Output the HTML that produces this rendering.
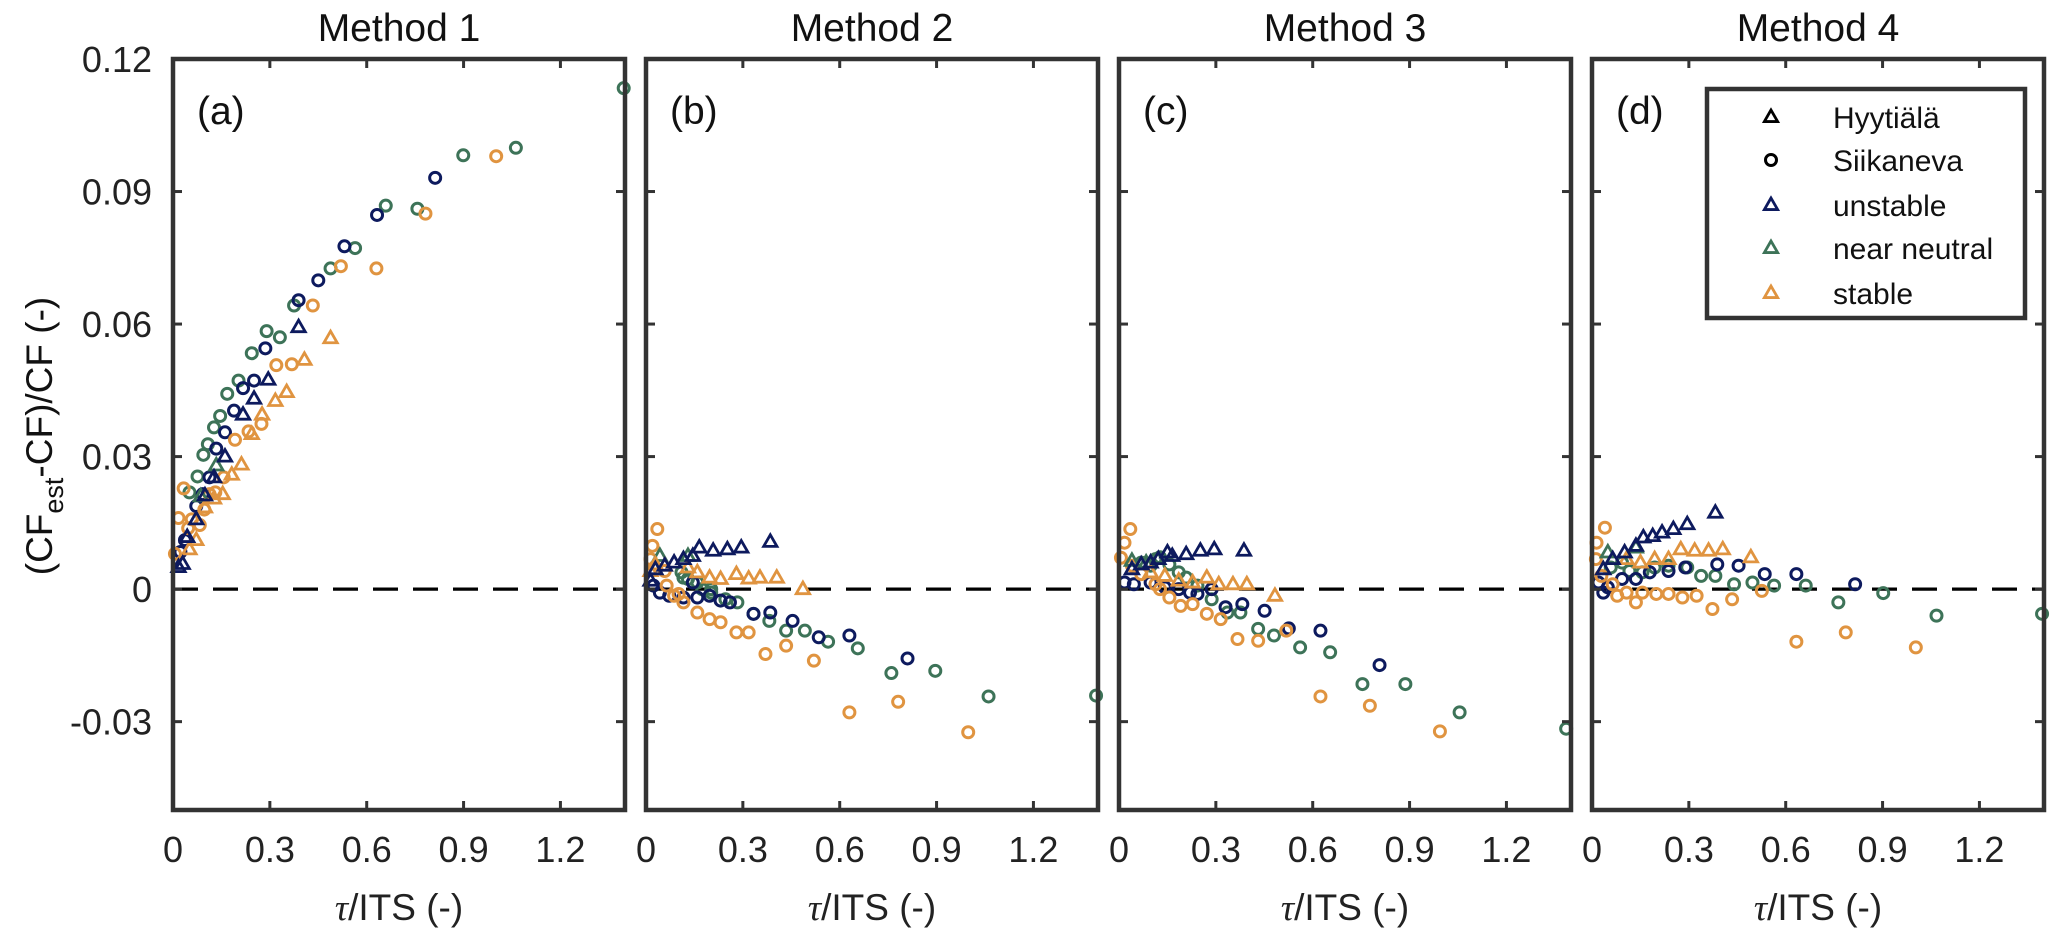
<!DOCTYPE html>
<html><head><meta charset="utf-8"><style>
html,body{margin:0;padding:0;background:#fff;}
svg{display:block;font-family:"Liberation Sans",Arial,sans-serif;}
</style></head><body>
<svg id="fig" width="2067" height="937" viewBox="0 0 2067 937"></svg>
<script>
// ---- data ----
const panelTitles = ["Method 1","Method 2","Method 3","Method 4"];
const panelLabels = ["(a)","(b)","(c)","(d)"];
const xTicks = [0,0.3,0.6,0.9,1.2];
const xTickLabels = ["0","0.3","0.6","0.9","1.2"];
const yTicks = [-0.03,0,0.03,0.06,0.09,0.12];
const yTickLabels = ["-0.03","0","0.03","0.06","0.09","0.12"];
const legendLabels = ["Hyytiälä","Siikaneva","unstable","near neutral","stable"];

// Panel a
const aUnstableTri = [[0.389,0.0593],[0.295,0.0474],[0.251,0.0431],[0.217,0.0395],[0.161,0.030],[0.127,0.0253],[0.099,0.0212],[0.072,0.0158],[0.044,0.0118],[0.017,0.005],[0.03,0.0057]];
const aNeutralTri = [[0.134,0.028],[0.086,0.021]];
const aStableTri = [[0.488,0.0568],[0.407,0.0519],[0.352,0.0446],[0.317,0.0426],[0.276,0.0395],[0.244,0.0351],[0.212,0.0282],[0.182,0.0259],[0.154,0.0215],[0.127,0.0205],[0.099,0.0185],[0.072,0.0111],[0.051,0.009]];
const aUnstableCirc = [[0.812,0.0931],[0.632,0.0847],[0.531,0.0776],[0.450,0.0699],[0.389,0.0654],[0.286,0.0545],[0.251,0.0472],[0.217,0.0455],[0.189,0.0404],[0.161,0.0355],[0.134,0.0318],[0.113,0.0253],[0.092,0.0215],[0.072,0.0188],[0.037,0.0111],[0.023,0.0084]];
const aNeutralCirc = [[1.396,0.1134],[1.062,0.0999],[0.899,0.0982],[0.659,0.0868],[0.757,0.0861],[0.564,0.0772],[0.488,0.0726],[0.375,0.0642],[0.290,0.0584],[0.331,0.0570],[0.244,0.0534],[0.203,0.0472],[0.168,0.0442],[0.146,0.0392],[0.127,0.0366],[0.108,0.0328],[0.094,0.0304],[0.076,0.0255],[0.051,0.0219]];
const aStableCirc = [[1.001,0.098],[0.782,0.085],[0.630,0.0726],[0.520,0.0731],[0.433,0.0642],[0.320,0.0507],[0.368,0.0509],[0.274,0.0374],[0.234,0.0357],[0.192,0.0338],[0.157,0.0253],[0.131,0.0219],[0.113,0.0215],[0.097,0.018],[0.083,0.0145],[0.058,0.0158],[0.017,0.0161],[0.033,0.0228],[0.047,0.0138],[0.006,0.008]];

// Panel b
const bUnstableTri = [[0.385,0.0107],[0.295,0.0094],[0.252,0.0090],[0.208,0.0087],[0.165,0.0094],[0.145,0.0075],[0.116,0.0068],[0.087,0.0060],[0.058,0.0053],[0.029,0.0045],[0.014,0.0019]];
const bNeutralTri = [[0.043,0.0075],[0.13,0.0075]];
const bStableTri = [[0.486,0],[0.405,0.0026],[0.353,0.0026],[0.318,0.0024],[0.28,0.0034],[0.231,0.0023],[0.197,0.0026],[0.159,0.0038],[0.130,0.0049],[0.058,0.0053],[0.029,0.0056],[0.014,0.0041]];
const bUnstableCirc = [[0.023,0.0008],[0.043,-0.0008],[0.072,-0.0015],[0.116,-0.0019],[0.159,-0.0019],[0.197,-0.0015],[0.231,-0.0026],[0.26,-0.003],[0.333,-0.0056],[0.385,-0.0053],[0.454,-0.0072],[0.535,-0.0109],[0.63,-0.0105],[0.81,-0.0157],[0.145,0.0015]];
const bNeutralCirc = [[0.11,0.0038],[0.13,0.0023],[0.159,0.0015],[0.174,0],[0.202,0],[0.246,-0.0023],[0.283,-0.003],[0.333,-0.0056],[0.382,-0.0072],[0.434,-0.0094],[0.492,-0.0094],[0.564,-0.0119],[0.656,-0.0134],[0.76,-0.019],[0.896,-0.0185],[1.061,-0.0243],[1.394,-0.0241],[0.116,0.0026],[0.202,-0.0008]];
const bStableCirc = [[0.035,0.0136],[0.02,0.0098],[0.014,0.0068],[0.064,0.0008],[0.087,-0.0015],[0.116,-0.003],[0.159,-0.0053],[0.197,-0.0068],[0.231,-0.0075],[0.28,-0.0098],[0.318,-0.0098],[0.37,-0.0147],[0.434,-0.0128],[0.52,-0.0162],[0.63,-0.0279],[0.781,-0.0255],[0.998,-0.0324],[0.058,0.0041],[0.101,-0.0011]];

// Panel c
const cUnstableTri = [[0.387,0.0087],[0.295,0.009],[0.252,0.0087],[0.208,0.0079],[0.165,0.0075],[0.150,0.0083],[0.122,0.0068],[0.098,0.006],[0.069,0.0056],[0.040,0.0045]];
const cNeutralTri = [[0.040,0.0064],[0.084,0.006]];
const cStableTri = [[0.483,-0.0015],[0.396,0.0011],[0.353,0.0011],[0.309,0.0011],[0.272,0.0026],[0.228,0.0015],[0.185,0.0019],[0.142,0.003],[0.098,0.0038]];
const cUnstableCirc = [[0.017,0.0015],[0.046,0.0011],[0.098,0.0015],[0.142,0.0004],[0.185,0],[0.220,-0.0008],[0.243,-0.0011],[0.287,0],[0.330,-0.0041],[0.382,-0.0034],[0.451,-0.0049],[0.526,-0.0089],[0.624,-0.0094],[0.807,-0.0172]];
const cNeutralCirc = [[0.069,0.006],[0.113,0.0068],[0.127,0.0072],[0.156,0.0056],[0.185,0.0038],[0.208,0.0026],[0.243,0.0008],[0.287,-0.0023],[0.336,-0.0053],[0.376,-0.0053],[0.431,-0.009],[0.480,-0.0105],[0.561,-0.0132],[0.654,-0.0143],[0.754,-0.0215],[0.887,-0.0215],[1.055,-0.0279],[1.385,-0.0316],[0.098,0.0053]];
const cStableCirc = [[0.035,0.0136],[0.017,0.0105],[0.006,0.0071],[0.040,0.0053],[0.069,0.0034],[0.113,0.0011],[0.156,-0.0019],[0.191,-0.0038],[0.228,-0.0034],[0.272,-0.0056],[0.315,-0.0068],[0.367,-0.0113],[0.431,-0.0117],[0.518,-0.0094],[0.624,-0.0243],[0.777,-0.0264],[0.994,-0.0322],[0.127,0]];

// Panel d
const dUnstableTri = [[0.382,0.0173],[0.295,0.0147],[0.252,0.0136],[0.217,0.0128],[0.188,0.012],[0.159,0.0117],[0.136,0.0098],[0.101,0.0083],[0.064,0.0068],[0.035,0.0045]];
const dNeutralTri = [[0.136,0.0094],[0.049,0.0083]];
const dStableTri = [[0.492,0.0072],[0.405,0.009],[0.361,0.0087],[0.318,0.0087],[0.275,0.009],[0.237,0.0068],[0.194,0.0068],[0.150,0.006],[0.107,0.0068]];
const dUnstableCirc = [[0.020,0.0015],[0.049,0.0004],[0.093,0.0023],[0.136,0.0023],[0.179,0.0038],[0.237,0.0041],[0.289,0.0049],[0.388,0.0056],[0.454,0.0053],[0.535,0.0034],[0.633,0.0034],[0.815,0.0011],[0.035,-0.0008]];
const dNeutralCirc = [[0.058,0.0049],[0.093,0.006],[0.116,0.0041],[0.156,0.0038],[0.194,0.0049],[0.237,0.0053],[0.338,0.003],[0.382,0.003],[0.440,0.0011],[0.497,0.0015],[0.564,0.0008],[0.662,0.0008],[0.763,-0.003],[0.902,-0.0009],[1.067,-0.006],[1.394,-0.0056],[0.295,0.0049]];
const dStableCirc = [[0.040,0.0139],[0.014,0.0105],[0.012,0.0068],[0.029,0.003],[0.064,0.0011],[0.078,-0.0015],[0.107,-0.0008],[0.136,-0.003],[0.156,-0.0008],[0.199,-0.0011],[0.237,-0.0011],[0.280,-0.0019],[0.324,-0.0015],[0.373,-0.0045],[0.434,-0.0023],[0.526,-0.0004],[0.633,-0.0119],[0.786,-0.0098],[1.003,-0.0132]];

const panelData = [
 [aNeutralCirc,aUnstableCirc,aStableCirc,aNeutralTri,aStableTri,aUnstableTri],
 [bNeutralCirc,bUnstableCirc,bStableCirc,bNeutralTri,bStableTri,bUnstableTri],
 [cNeutralCirc,cUnstableCirc,cStableCirc,cNeutralTri,cStableTri,cUnstableTri],
 [dNeutralCirc,dUnstableCirc,dStableCirc,dNeutralTri,dStableTri,dUnstableTri]
];
const seriesNames = ["neutral-circle","unstable-circle","stable-circle","neutral-triangle","stable-triangle","unstable-triangle"];

// ---- layout ----
const NAVY="#0d1a5e", GREEN="#3d7358", ORANGE="#e09440", AX="#333";
const seriesColor = [GREEN,NAVY,ORANGE,GREEN,ORANGE,NAVY];
const seriesShape = ["c","c","c","t","t","t"];
const lefts=[173,646,1119,1592], W=452, TOP=59, BOT=810;
const X0=0,X1=1.4,Y0=-0.05,Y1=0.12;
const NS="http://www.w3.org/2000/svg";
const svg=document.getElementById('fig');
function el(tag,attrs,parent,text){const e=document.createElementNS(NS,tag);for(const k in attrs)e.setAttribute(k,attrs[k]);if(text!==undefined)e.textContent=text;(parent||svg).appendChild(e);return e;}
function xs(p,v){return lefts[p]+(v-X0)/(X1-X0)*W;}
function ys(v){return BOT-(v-Y0)/(Y1-Y0)*(BOT-TOP);}
function marker(g,shape,cx,cy,color){
  let m;
  if(shape==="c"){m=el('circle',{cx:cx,cy:cy,r:5.5,fill:'none',stroke:color,'stroke-width':3},g);}
  else{const s=7;m=el('polygon',{points:`${cx},${cy-s} ${cx-s*0.95},${cy+s*0.65} ${cx+s*0.95},${cy+s*0.65}`,fill:'none',stroke:color,'stroke-width':2.8,'stroke-linejoin':'miter'},g);}
  return m;
}

// y-axis title
const yt=el('text',{x:0,y:0,'font-size':37,'text-anchor':'middle',fill:'#111',transform:'translate(52,436) rotate(-90)'});


el('tspan',{},yt,'(CF');
el('tspan',{'font-size':27,dy:11},yt,'est');
el('tspan',{dy:-11},yt,'-CF)/CF (-)');

for(let p=0;p<4;p++){
  const g=el('g',{});
  
  
  const t=el('text',{x:lefts[p]+W/2,y:41,'font-size':39,'text-anchor':'middle',fill:'#111'},g,panelTitles[p]);
  
  
  // zero line
  const z=el('line',{x1:lefts[p],x2:lefts[p]+W,y1:ys(0),y2:ys(0),stroke:'#000','stroke-width':3.2,'stroke-dasharray':'25,15'},g);
  
  
  // series
  panelData[p].forEach((arr,si)=>{
    const sg=el('g',{},g);
    
    
    arr.forEach(d=>{
      const m=marker(sg,seriesShape[si],xs(p,d[0]),ys(d[1]),seriesColor[si]);
      
      
    });
  });
  // ticks
  xTicks.forEach((v,i)=>{
    const x=xs(p,v);
    if(i>0){el('line',{x1:x,x2:x,y1:BOT,y2:BOT-9,stroke:AX,'stroke-width':3},g);el('line',{x1:x,x2:x,y1:TOP,y2:TOP+9,stroke:AX,'stroke-width':3},g);}
    const tl=el('text',{x:x,y:862,'font-size':36,'text-anchor':'middle',fill:'#222'},g,xTickLabels[i]);
    
    
  });
  yTicks.forEach((v,i)=>{
    const y=ys(v);
    el('line',{x1:lefts[p],x2:lefts[p]+9,y1:y,y2:y,stroke:AX,'stroke-width':3},g);
    el('line',{x1:lefts[p]+W,x2:lefts[p]+W-9,y1:y,y2:y,stroke:AX,'stroke-width':3},g);
    if(p===0){
      const yl=el('text',{x:152,y:y+13,'font-size':36,'text-anchor':'end',fill:'#222'},g,yTickLabels[i]);
      
      
    }
  });
  const fr=el('rect',{x:lefts[p],y:TOP,width:W,height:BOT-TOP,fill:'none',stroke:AX,'stroke-width':4.5},g);
  
  
  const pl=el('text',{x:lefts[p]+24,y:124,'font-size':39,fill:'#111'},g,panelLabels[p]);
  
  
  const xl=el('text',{x:lefts[p]+W/2,y:920,'font-size':37,'text-anchor':'middle',fill:'#222'},g);
  
  
  el('tspan',{'font-family':'"Liberation Serif",serif','font-style':'italic'},xl,'τ');
  el('tspan',{},xl,'/ITS (-)');
}

// legend
const lg=el('g',{});


el('rect',{x:1707,y:89,width:318,height:229,fill:'#fff',stroke:AX,'stroke-width':4.5},lg);
const legColors=["#000","#000",NAVY,GREEN,ORANGE];
const legShapes=["t","c","t","t","t"];
const legY=[117,160,205,248,293];
legendLabels.forEach((lab,i)=>{
  const e=el('g',{},lg);
  
  
  marker(e,legShapes[i],1771,legY[i],legColors[i]);
  el('text',{x:1833,y:legY[i]+11,'font-size':30,fill:'#111'},e,lab);
});
</script>
</body></html>
